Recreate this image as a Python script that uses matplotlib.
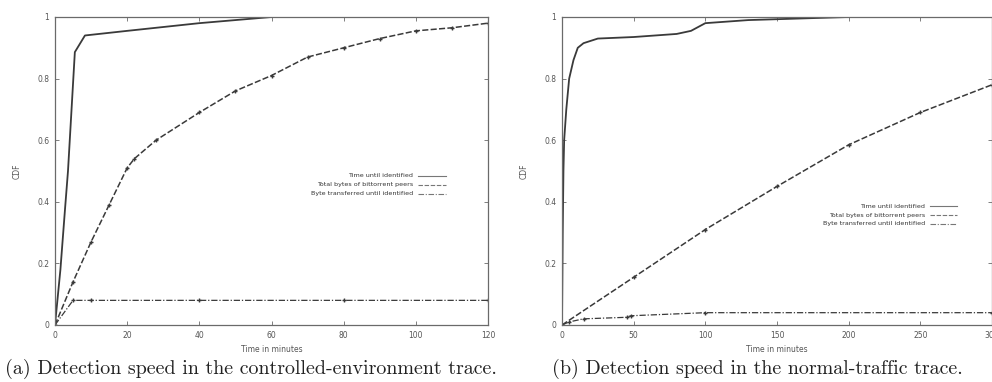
import matplotlib
matplotlib.use("Agg")
import matplotlib.pyplot as plt
from matplotlib.lines import Line2D

# ---- data: (a) controlled-environment trace ----
a_time_x = [0, 1.5, 2.8, 3.6, 5.5, 8.3, 20, 40, 60, 120]
a_time_y = [0, 0.18, 0.38, 0.50, 0.886, 0.94, 0.955, 0.98, 1.0, 1.0]
a_total_x = [0, 5, 10, 15, 20, 22, 28, 40, 50, 60, 70, 80, 90, 100, 110, 120]
a_total_y = [0, 0.14, 0.27, 0.39, 0.51, 0.54, 0.60, 0.69, 0.76, 0.81, 0.87, 0.90, 0.93, 0.955, 0.965, 0.98]
a_bytes_x = [0, 5, 10, 40, 80, 120]
a_bytes_y = [0, 0.08, 0.08, 0.08, 0.08, 0.08]

# ---- data: (b) normal-traffic trace ----
b_time_x = [0, 0.5, 1, 1.5, 3, 5, 8, 11, 15, 25, 50, 80, 90, 98, 100, 130, 200, 300]
b_time_y = [0, 0.30, 0.50, 0.60, 0.70, 0.80, 0.86, 0.90, 0.915, 0.93, 0.935, 0.945, 0.955, 0.975, 0.98, 0.99, 1.0, 1.0]
b_total_x = [0, 50, 100, 150, 200, 250, 300]
b_total_y = [0, 0.155, 0.31, 0.45, 0.585, 0.69, 0.78]
b_bytes_x = [0, 5, 15, 45, 48, 100, 300]
b_bytes_y = [0, 0.01, 0.02, 0.025, 0.03, 0.04, 0.04]

series_labels = ["Time until identified",
                 "Total bytes of bittorrent peers",
                 "Byte transferred until identified"]
a_xticks = [0, 20, 40, 60, 80, 100, 120]
b_xticks = [0, 50, 100, 150, 200, 250, 300]
yticks = [0, 0.2, 0.4, 0.6, 0.8, 1]
ytick_labels = ["0", "0.2", "0.4", "0.6", "0.8", "1"]
captions = ["(a) Detection speed in the controlled-environment trace.",
            "(b) Detection speed in the normal-traffic trace."]

LINE = "#3a3a3a"
FRAME = "#6a6a6a"
TXT = "#555555"

fig = plt.figure(figsize=(9.92, 3.82), dpi=100)
ax_a = fig.add_axes([55 / 992, 1 - 325 / 382, 433 / 992, 308 / 382])
ax_b = fig.add_axes([562 / 992, 1 - 325 / 382, 430 / 992, 308 / 382])

styles = [dict(ls="-", lw=1.3, marker=None),
          dict(ls=(0, (4, 1.5)), lw=1.1, marker="+", ms=2.5, markevery=1),
          dict(ls=(0, (5, 1.5, 1, 1.5)), lw=0.9, marker="+", ms=2.5, markevery=1)]


def draw_panel(ax, data, xmax, xticks, leg_x, leg_y):
    for (xs, ys), st in zip(data, styles):
        ax.plot(xs, ys, color=LINE, **st)
    ax.set_xlim(0, xmax)
    ax.set_ylim(0, 1)
    ax.set_xticks(xticks)
    ax.set_xticklabels([str(t) for t in xticks])
    ax.set_yticks(yticks)
    ax.set_yticklabels(ytick_labels)
    ax.tick_params(direction="in", length=3, width=0.6, colors=FRAME,
                   labelcolor=TXT, labelsize=5.5, top=True, right=True, pad=4)
    for sp in ax.spines.values():
        sp.set_color(FRAME)
        sp.set_linewidth(0.9)
    ax.set_xlabel("Time in minutes", fontsize=5.5, color=TXT, labelpad=4)
    ax.set_ylabel("CDF", fontsize=5.5, color=TXT, labelpad=11)
    # gnuplot-style key: label right-aligned, sample line to the right
    for i, (lab, st) in enumerate(zip(series_labels, styles)):
        y = leg_y - i * 0.029
        ax.text(leg_x, y, lab, transform=ax.transAxes, ha="right", va="center",
                fontsize=4.6, color="#333333")
        ax.add_line(Line2D([leg_x + 0.012, leg_x + 0.075], [y, y],
                           transform=ax.transAxes, color="#777777",
                           ls=st["ls"], lw=0.8))


draw_panel(ax_a, [(a_time_x, a_time_y), (a_total_x, a_total_y), (a_bytes_x, a_bytes_y)],
           120, a_xticks, 0.827, 0.484)
draw_panel(ax_b, [(b_time_x, b_time_y), (b_total_x, b_total_y), (b_bytes_x, b_bytes_y)],
           300, b_xticks, 0.844, 0.386)

fig.text(251 / 992, 1 - 369 / 382, captions[0], ha="center", va="center",
         fontsize=14.4, family=["cmr10", "DejaVu Serif"], color="#222222")
fig.text(757 / 992, 1 - 369 / 382, captions[1], ha="center", va="center",
         fontsize=14.4, family=["cmr10", "DejaVu Serif"], color="#222222")

fig.savefig("out.png", dpi=100)
